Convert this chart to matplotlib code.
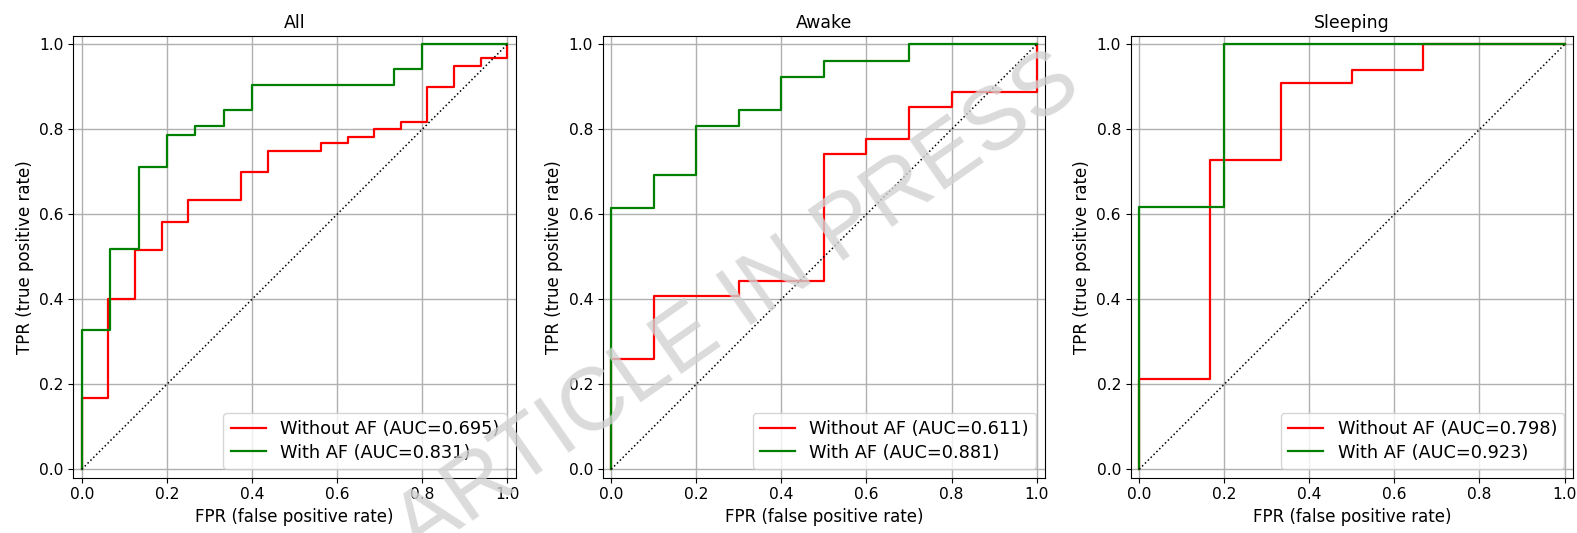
import matplotlib
matplotlib.use("Agg")
import matplotlib.pyplot as plt

# ROC corner points (fpr, tpr)
titles = ["All", "Awake", "Sleeping"]

fpr_wo_all = [0, 0, 0.0625, 0.125, 0.1875, 0.25, 0.375, 0.4375, 0.5625, 0.625, 0.6875, 0.75, 0.8125, 0.875, 0.9375, 1.0]
tpr_wo_all = [0, 0.167, 0.400, 0.517, 0.583, 0.633, 0.700, 0.750, 0.767, 0.783, 0.800, 0.817, 0.900, 0.950, 0.967, 1.0]
fpr_w_all = [0, 0, 0.0667, 0.1333, 0.2, 0.2667, 0.3333, 0.4, 0.7333, 0.8, 1.0]
tpr_w_all = [0, 0.327, 0.519, 0.712, 0.788, 0.808, 0.846, 0.904, 0.942, 1.0, 1.0]

fpr_wo_awake = [0, 0, 0.1, 0.3, 0.5, 0.6, 0.7, 0.8, 1.0]
tpr_wo_awake = [0, 0.259, 0.407, 0.444, 0.741, 0.778, 0.852, 0.889, 1.0]
fpr_w_awake = [0, 0, 0.1, 0.2, 0.3, 0.4, 0.5, 0.7, 1.0]
tpr_w_awake = [0, 0.615, 0.692, 0.808, 0.846, 0.923, 0.962, 1.0, 1.0]

fpr_wo_sleep = [0, 0, 0.1667, 0.3333, 0.5, 0.6667, 1.0]
tpr_wo_sleep = [0, 0.212, 0.727, 0.909, 0.939, 1.0, 1.0]
fpr_w_sleep = [0, 0, 0.2, 1.0]
tpr_w_sleep = [0, 0.618, 1.0, 1.0]

auc_wo = [0.695, 0.611, 0.798]
auc_w = [0.831, 0.881, 0.923]

curves_wo = [(fpr_wo_all, tpr_wo_all), (fpr_wo_awake, tpr_wo_awake), (fpr_wo_sleep, tpr_wo_sleep)]
curves_w = [(fpr_w_all, tpr_w_all), (fpr_w_awake, tpr_w_awake), (fpr_w_sleep, tpr_w_sleep)]

fig = plt.figure(figsize=(15.77, 5.33), dpi=100)
lefts = [0.0465, 0.3822, 0.7170]
ticks = [0, 0.2, 0.4, 0.6, 0.8, 1.0]

for i in range(3):
    ax = fig.add_axes([lefts[i], 0.1038, 0.2805, 0.8287])
    ax.plot(curves_wo[i][0], curves_wo[i][1], color='red', lw=1.6, drawstyle='steps-post',
            label=f'Without AF (AUC={auc_wo[i]:.3f})')
    ax.plot(curves_w[i][0], curves_w[i][1], color='green', lw=1.6, drawstyle='steps-post',
            label=f'With AF (AUC={auc_w[i]:.3f})')
    ax.plot([0, 1], [0, 1], 'k:', lw=1.1)
    ax.set_xlim(-0.02, 1.02)
    ax.set_ylim(-0.02, 1.02)
    ax.set_xticks(ticks)
    ax.set_yticks(ticks)
    ax.tick_params(labelsize=11.2)
    ax.grid(True, lw=1.0)
    ax.set_title(titles[i], fontsize=12.5)
    ax.set_xlabel('FPR (false positive rate)', fontsize=12)
    ax.set_ylabel('TPR (true positive rate)', fontsize=12)
    ax.legend(loc='lower right', fontsize=12.8, labelspacing=0.3)

# watermark
fig.text(0.468, 0.425, 'ARTICLE IN PRESS', fontsize=64, family='Liberation Sans',
         color='#d2d2d2', alpha=0.8, rotation=35, ha='center', va='center',
         rotation_mode='anchor', zorder=10)

fig.savefig('out.png', dpi=100)
